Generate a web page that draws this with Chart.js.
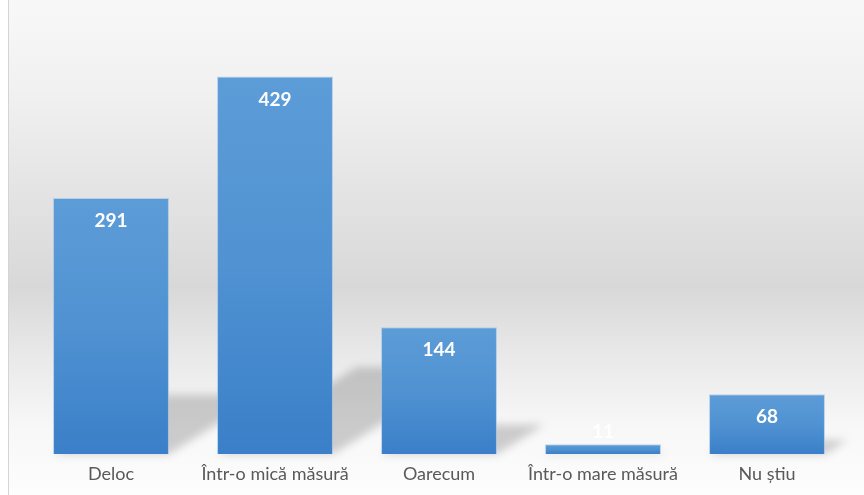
<!DOCTYPE html>
<html>
<head>
<meta charset="utf-8">
<script src="https://cdn.jsdelivr.net/npm/chart.js@4"></script>
<style>
  html, body { margin: 0; padding: 0; background: #ffffff; }
  #wrap { width: 864px; height: 495px; position: relative; }
</style>
</head>
<body>
<div id="wrap"><canvas id="c" width="864" height="495"></canvas></div>
<script>
const categories = ["Deloc", "Într-o mică măsură", "Oarecum", "Într-o mare măsură", "Nu știu"];
const values = [291, 429, 144, 11, 68];

const bgPlugin = {
  id: 'bg',
  beforeDraw(chart) {
    const ctx = chart.ctx;
    const W = chart.width, H = chart.height;
    ctx.save();
    ctx.fillStyle = '#ffffff';
    ctx.fillRect(0, 0, W, H);
    const g = ctx.createLinearGradient(0, 0, 0, H);
    g.addColorStop(0, '#f8f8f8');
    g.addColorStop(0.18, '#f1f1f1');
    g.addColorStop(0.4, '#e3e3e3');
    g.addColorStop(0.58, '#d8d8d8');
    g.addColorStop(0.72, '#e9e9e9');
    g.addColorStop(0.86, '#f7f7f7');
    g.addColorStop(1, '#fdfdfd');
    ctx.fillStyle = g;
    ctx.fillRect(8, 0, W - 8, H);
    ctx.strokeStyle = '#d4d4d4';
    ctx.lineWidth = 1;
    ctx.beginPath();
    ctx.moveTo(8.5, 0);
    ctx.lineTo(8.5, H);
    ctx.stroke();
    ctx.restore();
  }
};

const shadowPlugin = {
  id: 'barShadow',
  beforeDatasetsDraw(chart) {
    const ctx = chart.ctx;
    const meta = chart.getDatasetMeta(0);
    ctx.save();
    ctx.filter = 'blur(4px)';
    ctx.fillStyle = 'rgba(0,0,0,0.18)';
    meta.data.forEach(el => {
      const x0 = el.x - el.width / 2, x1 = el.x + el.width / 2;
      const h = el.base - el.y;
      const sh = 0.23 * h, dx = 0.37 * h;
      ctx.beginPath();
      ctx.moveTo(x0, el.base);
      ctx.lineTo(x1, el.base);
      ctx.lineTo(x1 + dx, el.base - sh);
      ctx.lineTo(x0 + dx, el.base - sh);
      ctx.closePath();
      ctx.fill();
    });
    ctx.restore();
  }
};

const labelPlugin = {
  id: 'barLabels',
  afterDatasetsDraw(chart) {
    const ctx = chart.ctx;
    const meta = chart.getDatasetMeta(0);
    ctx.save();
    ctx.fillStyle = '#ffffff';
    ctx.font = 'bold 19px Lato, "Open Sans", sans-serif';
    ctx.textAlign = 'center';
    ctx.textBaseline = 'middle';
    meta.data.forEach((el, i) => {
      const y = Math.min(el.y + 23, el.base - 22);
      ctx.fillText(String(values[i]), el.x, y);
    });
    ctx.restore();
  }
};

new Chart(document.getElementById('c'), {
  type: 'bar',
  data: {
    labels: categories,
    datasets: [{
      data: values,
      backgroundColor(context) {
        const chart = context.chart;
        const ys = chart.scales.y;
        if (!chart.chartArea || !ys) return '#4f8fd0';
        const top = ys.getPixelForValue(context.raw);
        const base = ys.getPixelForValue(0);
        if (!isFinite(top) || !isFinite(base) || top === base) return '#4f8fd0';
        const g = chart.ctx.createLinearGradient(0, top, 0, base);
        g.addColorStop(0, '#5c9cd7');
        g.addColorStop(0.5, '#5092d2');
        g.addColorStop(1, '#3a7fc8');
        return g;
      },
      borderColor: 'rgba(150,190,230,0.6)',
      borderWidth: 1,
      barPercentage: 0.707,
      categoryPercentage: 1.0
    }]
  },
  options: {
    responsive: false,
    animation: false,
    layout: { padding: { top: 14, left: 29, right: 15, bottom: 0 } },
    plugins: { legend: { display: false }, tooltip: { enabled: false } },
    scales: {
      y: { display: false, min: 0, max: 500 },
      x: {
        grid: { display: false, drawTicks: false },
        border: { display: false },
        ticks: {
          color: '#595959',
          font: { family: 'Lato, "Open Sans", sans-serif', size: 18 },
          padding: 9,
          maxRotation: 0,
          autoSkip: false
        },
        afterFit(scale) { scale.height = 41; }
      }
    }
  },
  plugins: [bgPlugin, shadowPlugin, labelPlugin]
});
</script>
</body>
</html>
